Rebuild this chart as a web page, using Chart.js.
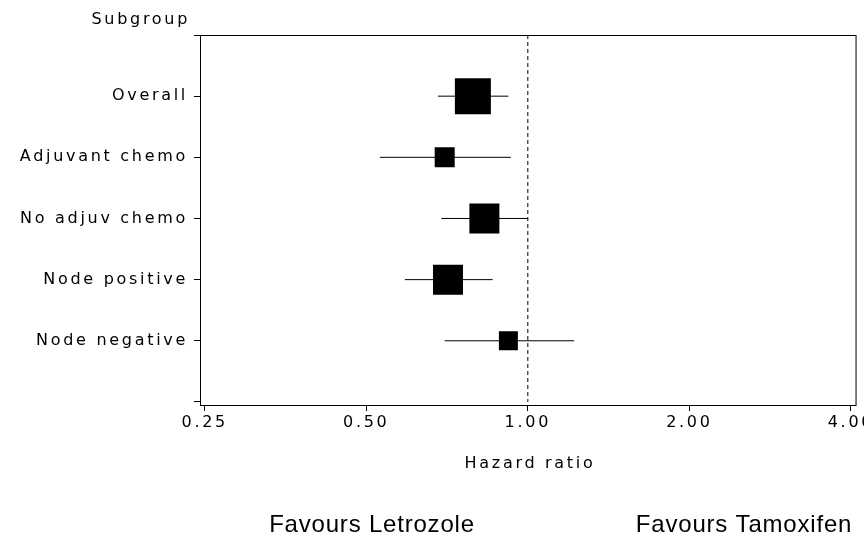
<!DOCTYPE html>
<html>
<head>
<meta charset="utf-8">
<script src="https://cdn.jsdelivr.net/npm/chart.js@4"></script>
<style>
  body { margin: 0; background: #fff; overflow: hidden; }
  #wrap { width: 881px; height: 536px; }
</style>
</head>
<body>
<div id="wrap"><canvas id="c"></canvas></div>
<script>
// Data
const subgroups = ['Overall', 'Adjuvant chemo', 'No adjuv chemo', 'Node positive', 'Node negative'];
const hazard = [0.79, 0.70, 0.83, 0.71, 0.92];
const lower = [0.68, 0.53, 0.69, 0.59, 0.70];
const upper = [0.92, 0.93, 1.00, 0.86, 1.22];
const boxSize = [36, 20, 30, 30, 19]; // square side in px (study weight)
const xTicks = [0.25, 0.5, 1, 2, 4];

const sasFont = { family: 'DejaVu Sans', size: 16 };
const SPACING = '2.7px';

const datasets = [];
subgroups.forEach((name, i) => {
    datasets.push({
        type: 'line',
        data: [{ x: lower[i], y: i + 1 }, { x: upper[i], y: i + 1 }],
        borderColor: '#000', borderWidth: 1, pointRadius: 0, fill: false
    });
});
datasets.push({
    type: 'line',
    data: [{ x: 1, y: 0 }, { x: 1, y: 6 }],
    borderColor: '#000', borderWidth: 1, borderDash: [4, 3], pointRadius: 0
});
datasets.push({
    type: 'scatter',
    data: hazard.map((h, i) => ({ x: h, y: i + 1 })),
    pointStyle: 'rect',
    pointRadius: boxSize.map(s => s / Math.SQRT2),
    backgroundColor: '#000', borderColor: '#000', borderWidth: 0
});

const extras = {
    id: 'extras',
    beforeDraw(chart) {
        chart.ctx.letterSpacing = SPACING;
    },
    afterDraw(chart) {
        const { ctx, chartArea: a } = chart;
        ctx.save();
        ctx.strokeStyle = '#000';
        ctx.lineWidth = 1;
        ctx.strokeRect(a.left + 0.5, a.top + 0.5, a.right - a.left, a.bottom - a.top);
        ctx.fillStyle = '#000';
        ctx.letterSpacing = SPACING;
        ctx.font = '16px "DejaVu Sans"';
        ctx.textAlign = 'right';
        ctx.textBaseline = 'middle';
        ctx.fillText('Subgroup', 190, 20);
        ctx.textAlign = 'center';
        ctx.fillText('Hazard ratio', 530, 464);
        ctx.letterSpacing = '0.8px';
        ctx.font = '24px "Liberation Sans"';
        ctx.fillText('Favours Letrozole', 372, 525);
        ctx.fillText('Favours Tamoxifen', 744, 525);
        ctx.restore();
    }
};

new Chart(document.getElementById('c'), {
    data: { datasets },
    options: {
        responsive: true,
        maintainAspectRatio: false,
        animation: false,
        layout: { padding: { left: 0, right: 0, top: 35, bottom: 0 } },
        plugins: { legend: { display: false }, tooltip: { enabled: false } },
        scales: {
            x: {
                type: 'logarithmic',
                min: 0.245, max: 4.08,
                afterBuildTicks: s => { s.ticks = xTicks.map(v => ({ value: v })); },
                afterFit: s => { s.height = 131; },
                ticks: { color: '#000', font: sasFont, autoSkip: false, maxRotation: 0, padding: 2,
                    callback: v => Number(v).toFixed(2) },
                grid: { drawOnChartArea: false, tickLength: 6, color: '#000' },
                border: { color: '#000' }
            },
            y: {
                type: 'linear', reverse: true, min: 0, max: 6.05,
                afterBuildTicks: s => { s.ticks = [0, 1, 2, 3, 4, 5, 6].map(v => ({ value: v })); },
                afterFit: s => { s.width = 200; },
                ticks: { color: '#000', font: sasFont, padding: 6,
                    callback: v => subgroups[v - 1] || '' },
                grid: { drawOnChartArea: false, tickLength: 6, color: '#000' },
                border: { color: '#000' }
            }
        }
    },
    plugins: [extras]
});
</script>
</body>
</html>
